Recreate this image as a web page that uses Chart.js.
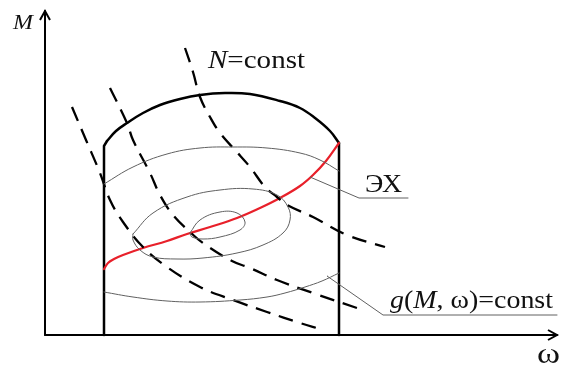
<!DOCTYPE html>
<html>
<head>
<meta charset="utf-8">
<script src="https://cdn.jsdelivr.net/npm/chart.js@4.4.0/dist/chart.umd.min.js"></script>
<style>
  html, body { margin: 0; padding: 0; background: #ffffff; }
  #wrap { width: 565px; height: 365px; }
</style>
</head>
<body>
<div id="wrap"><canvas id="diagram" width="565" height="365"></canvas></div>
<script>
// -----------------------------
// Diagram data (omega, M) in plot units, origin at axis corner
// -----------------------------
const axisOmega = [{x: 0, y: 0}, {x: 512, y: 0}];
const axisM = [{x: 0, y: 0}, {x: 0, y: 324}];

const boundaryLeft = [{x: 59, y: 0}, {x: 59, y: 189}, {x: 62, y: 194}];
const boundaryTop = [
    {x: 62, y: 194}, {x: 71, y: 204}, {x: 82, y: 212}, {x: 98, y: 222}, {x: 115, y: 230},
    {x: 135, y: 236}, {x: 155, y: 240}, {x: 180, y: 242}, {x: 205, y: 241}, {x: 235, y: 234},
    {x: 255, y: 227}, {x: 270, y: 217}, {x: 285, y: 204}, {x: 294, y: 192}
];
const boundaryRight = [{x: 294, y: 192}, {x: 294, y: 0}];

// g(M, w) = const contours
const contourOuter = [
    {x: 59, y: 151}, {x: 88, y: 168}, {x: 122, y: 181}, {x: 155, y: 187}, {x: 188, y: 188},
    {x: 222, y: 187}, {x: 255, y: 182}, {x: 275, y: 175}, {x: 294, y: 164}
];
const contourMiddle = [
    {x: 88, y: 101}, {x: 108, y: 122}, {x: 142, y: 138}, {x: 175, y: 145}, {x: 208, y: 146},
    {x: 232, y: 140}, {x: 243, y: 128}, {x: 245, y: 115}, {x: 238, y: 102}, {x: 218, y: 90},
    {x: 192, y: 82}, {x: 158, y: 77}, {x: 132, y: 76}, {x: 108, y: 78}, {x: 95, y: 85},
    {x: 88, y: 95}, {x: 88, y: 101}
];
const contourInner = [
    {x: 145, y: 102}, {x: 155, y: 115}, {x: 175, y: 123}, {x: 192, y: 122}, {x: 200, y: 113},
    {x: 195, y: 105}, {x: 175, y: 98}, {x: 158, y: 96}, {x: 147, y: 98}, {x: 145, y: 102}
];
const contourLower = [
    {x: 59, y: 43}, {x: 88, y: 38}, {x: 122, y: 34}, {x: 155, y: 33}, {x: 195, y: 35},
    {x: 222, y: 38}, {x: 240, y: 42}, {x: 260, y: 48}, {x: 277, y: 54}, {x: 294, y: 62}
];

// N = const curves
const power1 = [
    {x: 27, y: 228}, {x: 41, y: 195}, {x: 55, y: 162}, {x: 65, y: 135}, {x: 78, y: 113},
    {x: 98, y: 88}, {x: 122, y: 68}, {x: 155, y: 48}, {x: 188, y: 35}, {x: 222, y: 23},
    {x: 255, y: 12}, {x: 275, y: 6}
];
const power2 = [
    {x: 65, y: 247}, {x: 82, y: 212}, {x: 88, y: 195}, {x: 105, y: 162}, {x: 115, y: 140},
    {x: 128, y: 120}, {x: 145, y: 103}, {x: 158, y: 92}, {x: 187, y: 74}, {x: 205, y: 67},
    {x: 232, y: 55}, {x: 268, y: 42}, {x: 312, y: 27}
];
const power3 = [
    {x: 140, y: 287}, {x: 148, y: 263}, {x: 155, y: 238}, {x: 165, y: 218}, {x: 175, y: 202},
    {x: 190, y: 185}, {x: 205, y: 168}, {x: 220, y: 148}, {x: 232, y: 138}, {x: 242, y: 130},
    {x: 268, y: 118}, {x: 302, y: 100}, {x: 340, y: 88}
];

// ЭХ (red characteristic)
const characteristic = [
    {x: 59, y: 66}, {x: 63, y: 72}, {x: 69, y: 76}, {x: 78, y: 80}, {x: 98, y: 87},
    {x: 122, y: 94}, {x: 142, y: 101}, {x: 165, y: 108}, {x: 192, y: 117}, {x: 215, y: 127},
    {x: 235, y: 137}, {x: 255, y: 149}, {x: 268, y: 160}, {x: 281, y: 174}, {x: 294, y: 192}
];

// leader lines to the labels
const leaderEX = [{x: 265, y: 158}, {x: 314, y: 137}, {x: 363, y: 137}];
const leaderG = [{x: 282, y: 59}, {x: 338, y: 20}, {x: 512, y: 20}];

// -----------------------------
// Styles
// -----------------------------
const black = '#000000';
const thinGray = '#606060';
const red = '#e8202a';
const serif = '"Liberation Serif", "DejaVu Serif", serif';

function solid(data, color, width, tension) {
    return {
        data: data, showLine: true, borderColor: color, borderWidth: width,
        pointRadius: 0, tension: tension || 0, fill: false,
        borderJoinStyle: 'round', borderCapStyle: 'round'
    };
}

function dashed(data) {
    return {
        data: data, showLine: true, borderColor: black, borderWidth: 2.3,
        borderDash: [15, 9], borderCapStyle: 'butt',
        pointRadius: 0, tension: 0.4, fill: false
    };
}

// -----------------------------
// Arrowheads and text labels
// -----------------------------
// runs are [text, italic]; text is stretched sideways to the wanted width
function drawLabel(ctx, runs, x, y, size, width) {
    const fonts = runs.map(([, italic]) => (italic ? 'italic ' : '') + size + 'px ' + serif);
    let natural = 0;
    runs.forEach(([text], i) => {
        ctx.font = fonts[i];
        natural += ctx.measureText(text).width;
    });
    ctx.save();
    ctx.translate(x, y);
    ctx.scale(width / natural, 1);
    let cx = 0;
    runs.forEach(([text], i) => {
        ctx.font = fonts[i];
        ctx.fillText(text, cx, 0);
        cx += ctx.measureText(text).width;
    });
    ctx.restore();
}

const annotations = {
    id: 'annotations',
    afterDatasetsDraw(chart) {
        const ctx = chart.ctx;
        const xs = chart.scales.x;
        const ys = chart.scales.y;
        const px = v => xs.getPixelForValue(v);
        const py = v => ys.getPixelForValue(v);

        ctx.save();
        ctx.strokeStyle = black;
        ctx.lineWidth = 2;
        ctx.lineJoin = 'miter';
        // M axis arrow
        const tipM = axisM[axisM.length - 1];
        ctx.beginPath();
        ctx.moveTo(px(tipM.x) - 5, py(tipM.y) + 9);
        ctx.lineTo(px(tipM.x), py(tipM.y));
        ctx.lineTo(px(tipM.x) + 5, py(tipM.y) + 9);
        ctx.stroke();
        // omega axis arrow
        const tipW = axisOmega[axisOmega.length - 1];
        ctx.beginPath();
        ctx.moveTo(px(tipW.x) - 9, py(tipW.y) - 5);
        ctx.lineTo(px(tipW.x), py(tipW.y));
        ctx.lineTo(px(tipW.x) - 9, py(tipW.y) + 5);
        ctx.stroke();

        ctx.fillStyle = '#111111';
        ctx.textBaseline = 'alphabetic';
        drawLabel(ctx, [['M', true]], px(-32), py(306), 21, 20);
        drawLabel(ctx, [['N', true], ['=const', false]], px(163), py(267), 25, 97);
        drawLabel(ctx, [['ЭХ', false]], px(320), py(143), 26, 37);
        drawLabel(ctx, [['g', true], ['(', false], ['M', true], [', ω)=const', false]], px(345), py(27), 26, 163);
        drawLabel(ctx, [['ω', false]], px(492), py(-28), 30, 23);
        ctx.restore();
    }
};

// -----------------------------
// Chart
// -----------------------------
new Chart(document.getElementById('diagram'), {
    type: 'scatter',
    data: {
        datasets: [
            solid(contourOuter, thinGray, 1, 0.4),
            solid(contourMiddle, thinGray, 1, 0.4),
            solid(contourInner, thinGray, 1, 0.4),
            solid(contourLower, thinGray, 1, 0.4),
            solid(leaderEX, thinGray, 1),
            solid(leaderG, thinGray, 1),
            dashed(power1),
            dashed(power2),
            dashed(power3),
            solid(characteristic, red, 2.2, 0.4),
            solid(boundaryLeft, black, 2.5),
            solid(boundaryTop, black, 2.5, 0.4),
            solid(boundaryRight, black, 2.5),
            solid(axisOmega, black, 2),
            solid(axisM, black, 2)
        ]
    },
    options: {
        responsive: false,
        animation: false,
        layout: {padding: 0},
        plugins: {legend: {display: false}, tooltip: {enabled: false}},
        scales: {
            x: {type: 'linear', min: -45, max: 520, display: false},
            y: {type: 'linear', min: -30, max: 335, display: false}
        }
    },
    plugins: [annotations]
});
</script>
</body>
</html>
